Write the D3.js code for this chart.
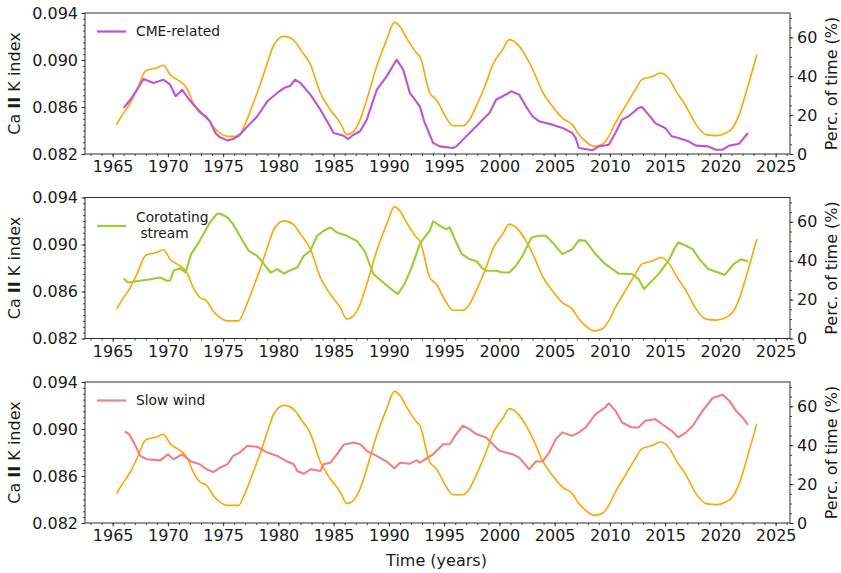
<!DOCTYPE html>
<html>
<head>
<meta charset="utf-8">
<script src="https://cdn.jsdelivr.net/npm/d3@7/dist/d3.min.js"></script>
<style>
  html, body { margin: 0; padding: 0; background: #fff; }
  svg { display: block; font-family: "DejaVu Sans", sans-serif; }
</style>
</head>
<body>
<svg id="chart" width="841" height="573"></svg>
<script>
// Ca II K index (left axis), shared by all three panels: [year, index]
const caIIK = [
  [1965.36, 0.0845], [1965.9, 0.08535], [1966.6, 0.08634], [1967.2, 0.08748], [1968.0, 0.08909],
  [1969.0, 0.08932], [1969.6, 0.08955], [1970.2, 0.08875], [1971.1, 0.08818], [1971.7, 0.08762],
  [1972.3, 0.08634], [1972.9, 0.08549], [1973.5, 0.08521], [1974.1, 0.08435], [1974.7, 0.08379],
  [1975.4, 0.0835], [1976.4, 0.0835], [1976.9, 0.08435], [1977.5, 0.08577], [1978.4, 0.08804],
  [1979.0, 0.08974], [1979.6, 0.0913], [1980.5, 0.09201], [1981.4, 0.09167], [1982.0, 0.09088],
  [1982.9, 0.0896], [1983.8, 0.08719], [1984.7, 0.08577], [1985.6, 0.08464], [1986.2, 0.08365],
  [1986.8, 0.08393], [1987.4, 0.08492], [1988.0, 0.08662], [1988.9, 0.08946], [1989.8, 0.09173],
  [1990.5, 0.0932], [1991.0, 0.09286], [1991.6, 0.09187], [1992.5, 0.0906], [1992.8, 0.09031],
  [1993.7, 0.08719], [1994.3, 0.08662], [1995.2, 0.08506], [1995.8, 0.08441], [1996.7, 0.08441],
  [1997.3, 0.08492], [1997.9, 0.08606], [1998.8, 0.08804], [1999.4, 0.0896], [2000.3, 0.09088],
  [2000.9, 0.09173], [2001.8, 0.09116], [2002.4, 0.09031], [2003.3, 0.08861], [2003.8, 0.08748],
  [2004.8, 0.08606], [2005.7, 0.08506], [2006.6, 0.0845], [2007.2, 0.08365], [2007.8, 0.08308],
  [2008.6, 0.08265], [2009.3, 0.0828], [2009.9, 0.0835], [2010.5, 0.08464], [2011.4, 0.08606],
  [2012.3, 0.08748], [2012.9, 0.08833], [2013.9, 0.08861], [2014.6, 0.08889], [2015.4, 0.08833],
  [2016.0, 0.08733], [2016.9, 0.08606], [2017.8, 0.0845], [2018.7, 0.08365], [2019.6, 0.08356],
  [2020.5, 0.08379], [2021.1, 0.08421], [2021.7, 0.08535], [2022.4, 0.08748], [2023.3, 0.09045]
];

// Percentage of time per solar-wind type (right axis): [year, percent]
const cmeRelated = [
  [1966.0, 23.7], [1966.6, 27.9], [1967.2, 33.0], [1967.8, 38.6], [1968.7, 36.5], [1969.6, 38.2],
  [1970.2, 35.7], [1970.7, 29.7], [1971.3, 33.0], [1971.7, 29.7], [1972.3, 25.4], [1972.9, 21.9],
  [1973.8, 16.8], [1974.3, 10.8], [1974.7, 8.6], [1975.4, 7.0], [1975.9, 7.7], [1976.5, 9.9],
  [1977.2, 14.2], [1978.1, 19.4], [1979.0, 27.1], [1979.9, 31.4], [1980.5, 33.9], [1981.1, 35.1],
  [1981.5, 38.2], [1982.0, 36.5], [1982.9, 30.5], [1983.8, 22.8], [1984.5, 15.9], [1985.0, 10.8],
  [1985.9, 9.4], [1986.3, 7.7], [1986.8, 9.9], [1987.4, 11.7], [1988.0, 17.7], [1988.9, 33.0],
  [1989.8, 39.9], [1990.7, 48.5], [1991.3, 43.4], [1991.9, 31.4], [1992.8, 24.5], [1993.2, 16.8],
  [1994.0, 5.7], [1994.6, 3.9], [1995.8, 3.1], [1996.1, 3.9], [1996.7, 7.4], [1997.3, 10.8],
  [1998.2, 15.9], [1999.1, 21.1], [1999.7, 27.9], [2000.3, 29.7], [2001.1, 32.2], [2001.8, 30.5],
  [2002.4, 24.5], [2003.0, 19.4], [2003.6, 16.8], [2004.2, 15.9], [2004.8, 15.1], [2005.7, 13.4],
  [2006.6, 10.8], [2006.9, 8.2], [2007.2, 3.1], [2008.4, 1.9], [2009.0, 3.9], [2009.9, 4.8],
  [2010.5, 10.8], [2011.1, 17.7], [2011.7, 19.4], [2012.6, 23.7], [2012.9, 24.2], [2013.5, 20.2],
  [2014.1, 15.9], [2015.0, 13.4], [2015.6, 9.1], [2016.2, 8.2], [2017.1, 6.5], [2017.8, 4.3],
  [2018.9, 3.9], [2019.6, 2.2], [2020.2, 2.2], [2020.8, 4.3], [2021.7, 5.3], [2022.5, 10.8]
];

const corotating = [
  [1966.0, 30.9], [1966.4, 28.8], [1967.5, 29.7], [1968.4, 30.5], [1969.3, 31.4], [1969.9, 29.7],
  [1970.2, 29.7], [1970.5, 34.8], [1971.1, 36.2], [1971.6, 33.9], [1972.1, 43.4], [1972.7, 48.5],
  [1973.3, 54.5], [1973.8, 59.7], [1974.4, 63.9], [1974.7, 64.3], [1975.4, 62.2], [1975.9, 58.8],
  [1976.5, 52.8], [1977.3, 45.1], [1978.1, 42.5], [1978.7, 38.2], [1979.3, 33.9], [1979.9, 35.7],
  [1980.5, 33.4], [1981.1, 35.1], [1981.7, 36.5], [1982.3, 42.5], [1982.9, 45.1], [1983.5, 52.8],
  [1984.1, 55.4], [1984.7, 57.1], [1985.3, 54.5], [1986.2, 52.8], [1987.1, 50.2], [1987.8, 45.1],
  [1988.6, 33.1], [1989.5, 28.8], [1990.2, 25.4], [1990.8, 22.8], [1991.4, 27.9], [1992.0, 35.7],
  [1992.8, 48.5], [1993.2, 51.9], [1993.7, 55.4], [1994.0, 60.2], [1994.6, 58.0], [1995.2, 56.2],
  [1995.5, 57.1], [1996.1, 49.4], [1996.6, 43.4], [1997.3, 40.8], [1997.9, 39.9], [1998.4, 36.5],
  [1998.8, 34.8], [1999.7, 34.8], [2000.3, 33.9], [2000.9, 33.9], [2001.5, 37.4], [2002.1, 42.5],
  [2002.9, 51.9], [2003.6, 52.8], [2004.2, 52.8], [2004.8, 49.4], [2005.7, 43.4], [2006.6, 45.9],
  [2007.2, 50.6], [2007.8, 50.2], [2008.7, 43.4], [2009.6, 38.2], [2010.8, 33.4], [2012.0, 33.1],
  [2012.6, 30.5], [2013.1, 25.4], [2013.5, 27.9], [2014.4, 33.1], [2015.4, 40.8], [2015.8, 45.9],
  [2016.2, 49.4], [2016.9, 47.7], [2017.5, 45.9], [2018.1, 40.8], [2018.9, 35.7], [2019.8, 33.9],
  [2020.4, 32.7], [2021.2, 38.2], [2021.9, 40.8], [2022.5, 39.6]
];

const slowWind = [
  [1966.1, 47.1], [1966.5, 45.7], [1967.0, 40.5], [1967.5, 34.5], [1968.1, 32.8], [1969.3, 32.2],
  [1970.0, 35.3], [1970.5, 32.8], [1971.3, 35.3], [1972.1, 31.6], [1972.9, 30.2], [1973.5, 27.6],
  [1974.1, 26.2], [1974.7, 28.4], [1975.4, 30.2], [1975.9, 34.5], [1976.5, 36.2], [1977.2, 39.7],
  [1978.1, 39.1], [1979.0, 36.2], [1979.9, 34.5], [1980.8, 31.6], [1981.4, 30.2], [1981.7, 26.7],
  [1982.3, 25.3], [1982.9, 27.6], [1983.8, 26.7], [1984.1, 30.2], [1984.7, 31.0], [1985.3, 35.3],
  [1985.9, 40.2], [1986.8, 41.4], [1987.4, 40.5], [1988.0, 37.1], [1988.9, 34.5], [1989.8, 31.6],
  [1990.5, 28.1], [1991.0, 31.0], [1991.9, 30.5], [1992.5, 32.2], [1992.8, 31.0], [1994.0, 35.3],
  [1994.9, 40.5], [1995.5, 40.5], [1996.1, 45.7], [1996.7, 50.0], [1997.3, 48.3], [1997.9, 45.7],
  [1998.8, 44.0], [2000.0, 37.1], [2001.2, 35.3], [2001.8, 33.6], [2002.7, 27.6], [2003.3, 31.6],
  [2003.9, 31.6], [2004.5, 36.2], [2005.1, 43.1], [2005.7, 46.6], [2006.6, 44.8], [2007.2, 46.6],
  [2007.8, 49.1], [2008.7, 56.0], [2009.6, 59.5], [2009.9, 61.6], [2010.5, 57.8], [2011.1, 51.7],
  [2012.0, 49.1], [2012.6, 49.1], [2013.2, 52.6], [2014.1, 53.4], [2014.7, 50.9], [2015.6, 47.4],
  [2016.2, 44.0], [2016.9, 46.6], [2017.5, 50.0], [2018.4, 57.8], [2019.0, 62.1], [2019.3, 64.3],
  [2020.2, 66.0], [2020.8, 62.9], [2021.4, 57.8], [2022.0, 54.3], [2022.5, 50.5]
];

// Panel definitions: legend label lines, series and colour
const panels = [
  { label: ["CME-related"], data: cmeRelated, color: "#ba55d3" },
  { label: ["Corotating", "\u00a0stream"], data: corotating, color: "#9acd32" },
  { label: ["Slow wind"], data: slowWind, color: "#f08080" }
];

const xTicks = [1965, 1970, 1975, 1980, 1985, 1990, 1995, 2000, 2005, 2010, 2015, 2020, 2025];
const leftTicks = [0.082, 0.086, 0.090, 0.094];
const rightTicks = [0, 20, 40, 60];

const svg = d3.select("#chart");
const left = 85, right = 790, panelH = 141;
const panelTops = [13, 197.5, 382];
const ink = "#1a1a1a";

const x = d3.scaleLinear().domain([1962.5, 2026.3]).range([left, right]);

panels.forEach((p, i) => {
  const top = panelTops[i], bottom = top + panelH;
  const yL = d3.scaleLinear().domain([0.082, 0.094]).range([bottom, top]);
  const yR = d3.scaleLinear().domain([0, 72.5]).range([bottom, top]);
  const g = svg.append("g");

  // minor ticks
  const minorX = d3.range(1963, 2027, 1);
  const minorL = d3.range(0, 25).map(k => 0.082 + k * 0.0005);
  const minorR = d3.range(0, 15).map(k => k * 5);

  g.append("g").attr("transform", `translate(0,${bottom})`)
    .call(d3.axisBottom(x).tickValues(minorX).tickSize(2).tickFormat(""))
    .call(a => a.select(".domain").remove());
  g.append("g").attr("transform", `translate(${left},0)`)
    .call(d3.axisLeft(yL).tickValues(minorL).tickSize(2).tickFormat(""))
    .call(a => a.select(".domain").remove());
  g.append("g").attr("transform", `translate(${right},0)`)
    .call(d3.axisRight(yR).tickValues(minorR).tickSize(2).tickFormat(""))
    .call(a => a.select(".domain").remove());

  // major ticks with labels
  const ax = g.append("g").attr("transform", `translate(0,${bottom})`)
    .call(d3.axisBottom(x).tickValues(xTicks).tickSize(3.5).tickPadding(3.5).tickFormat(d3.format("d")));
  const al = g.append("g").attr("transform", `translate(${left},0)`)
    .call(d3.axisLeft(yL).tickValues(leftTicks).tickSize(3.5).tickPadding(3.5).tickFormat(d3.format(".3f")));
  const ar = g.append("g").attr("transform", `translate(${right},0)`)
    .call(d3.axisRight(yR).tickValues(rightTicks).tickSize(3.5).tickPadding(3.5).tickFormat(d3.format("d")));
  [ax, al, ar].forEach(a => {
    a.select(".domain").remove();
    a.selectAll("text").attr("font-size", 16).attr("fill", ink).attr("font-family", "DejaVu Sans");
  });
  g.selectAll(".tick line").attr("stroke", ink).attr("stroke-width", 0.8);

  // Ca II K index line (smoothed)
  const lineL = d3.line().curve(d3.curveMonotoneX).x(d => x(d[0])).y(d => yL(d[1]));
  g.append("path").datum(caIIK).attr("d", lineL)
    .attr("fill", "none").attr("stroke", "#ffa500").attr("stroke-width", 1.6)
    .attr("stroke-linejoin", "round");

  // percentage line
  const lineR = d3.line().x(d => x(d[0])).y(d => yR(d[1]));
  g.append("path").datum(p.data).attr("d", lineR)
    .attr("fill", "none").attr("stroke", p.color).attr("stroke-width", 2.1)
    .attr("stroke-linejoin", "round");

  // frame
  g.append("rect").attr("x", left).attr("y", top).attr("width", right - left).attr("height", panelH)
    .attr("fill", "none").attr("stroke", ink).attr("stroke-width", 0.9);

  // legend
  const ly = top + 18.5;
  const lg = g.append("g");
  lg.append("line").attr("x1", 97).attr("x2", 126)
    .attr("y1", i === 1 ? top + 28.5 : ly).attr("y2", i === 1 ? top + 28.5 : ly)
    .attr("stroke", p.color).attr("stroke-width", 2.2);
  p.label.forEach((t, k) => {
    lg.append("text").attr("x", 136)
      .attr("y", (i === 1 ? top + 20 + k * 16 : ly) )
      .attr("dy", "0.35em").attr("font-size", 13.8).attr("fill", ink)
      .attr("xml:space", "preserve").text(t);
  });

  // axis titles
  const cy = (top + bottom) / 2;
  const tl = g.append("text").attr("transform", `translate(20,${cy}) rotate(-90)`)
    .attr("text-anchor", "middle").attr("font-size", 16).attr("fill", ink);
  tl.append("tspan").text("Ca ");
  tl.append("tspan").attr("font-weight", "bold").text("II");
  tl.append("tspan").text(" K index");
  g.append("text").attr("transform", `translate(831,${cy}) rotate(-90)`)
    .attr("text-anchor", "middle").attr("dy", "0.35em").attr("font-size", 16).attr("fill", ink)
    .text("Perc. of time (%)");
});

svg.append("text").attr("x", (left + right) / 2 - 1).attr("y", 566)
  .attr("text-anchor", "middle").attr("font-size", 16).attr("fill", ink)
  .text("Time (years)");
</script>
</body>
</html>
